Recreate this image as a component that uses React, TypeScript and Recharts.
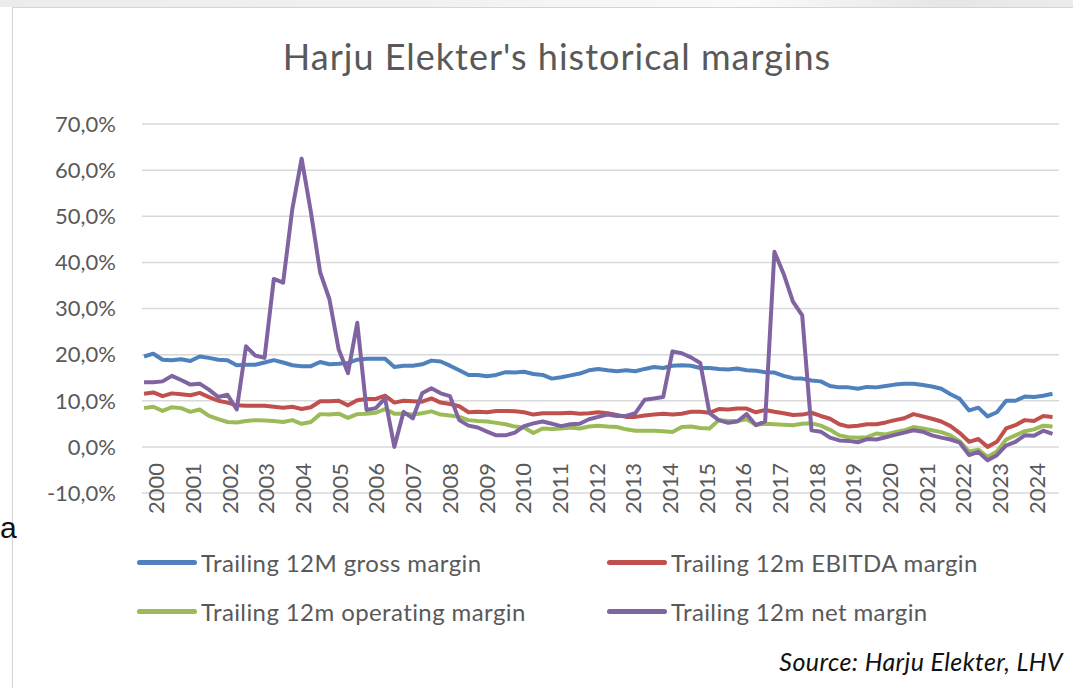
import { LineChart, Line, XAxis, YAxis, CartesianGrid } from "recharts";

const YEARS = [
  2000, 2001, 2002, 2003, 2004, 2005, 2006, 2007, 2008, 2009, 2010, 2011, 2012,
  2013, 2014, 2015, 2016, 2017, 2018, 2019, 2020, 2021, 2022, 2023, 2024,
];

const Y_TICKS = [-10, 0, 10, 20, 30, 40, 50, 60, 70];

// trailing 12m margins, %, one value per quarter
const GROSS = [
  19.6, 20.2, 18.9, 18.8, 19.0, 18.6, 19.6, 19.3, 18.9, 18.8, 17.7, 17.8, 17.8,
  18.3, 18.8, 18.3, 17.7, 17.5, 17.5, 18.4, 17.9, 18.0, 18.2, 18.9, 19.1, 19.1,
  19.1, 17.3, 17.6, 17.6, 17.9, 18.7, 18.5, 17.6, 16.6, 15.6, 15.6, 15.3, 15.6,
  16.2, 16.1, 16.3, 15.8, 15.6, 14.8, 15.1, 15.5, 15.9, 16.6, 16.9, 16.6, 16.4,
  16.6, 16.4, 16.9, 17.3, 17.1, 17.6, 17.7, 17.6, 17.1, 17.1, 16.9, 16.8, 17.0,
  16.6, 16.5, 16.2, 16.1, 15.4, 14.9, 14.8, 14.4, 14.2, 13.2, 12.9, 12.9, 12.6,
  13.0, 12.9, 13.2, 13.5, 13.7, 13.7, 13.4, 13.1, 12.6, 11.4, 10.4, 7.9, 8.5,
  6.6, 7.5, 10.0, 10.0, 10.9, 10.8, 11.1, 11.5,
];

const EBITDA = [
  11.5, 11.8, 11.0, 11.6, 11.4, 11.2, 11.7, 10.8, 10.0, 9.6, 9.0, 8.9, 8.9, 8.9,
  8.7, 8.5, 8.7, 8.2, 8.6, 9.9, 9.9, 10.0, 9.0, 10.1, 10.4, 10.4, 11.1, 9.6,
  10.0, 9.9, 9.8, 10.5, 9.6, 9.3, 8.8, 7.5, 7.6, 7.5, 7.8, 7.8, 7.7, 7.5, 7.0,
  7.3, 7.3, 7.3, 7.4, 7.2, 7.3, 7.5, 7.3, 6.9, 6.5, 6.5, 6.8, 7.0, 7.2, 7.0, 7.2,
  7.6, 7.6, 7.4, 8.2, 8.1, 8.3, 8.3, 7.5, 8.0, 7.6, 7.3, 6.9, 7.0, 7.4, 6.7, 6.1,
  4.9, 4.4, 4.6, 4.9, 4.9, 5.3, 5.8, 6.2, 7.1, 6.6, 6.1, 5.5, 4.5, 3.0, 1.1, 1.7,
  0.0, 1.1, 4.0, 4.7, 5.8, 5.6, 6.7, 6.5,
];

const OPERATING = [
  8.4, 8.7, 7.8, 8.6, 8.4, 7.6, 8.1, 6.7, 6.0, 5.4, 5.3, 5.6, 5.8, 5.7, 5.6, 5.4,
  5.8, 5.0, 5.4, 7.1, 7.0, 7.2, 6.3, 7.1, 7.2, 7.4, 8.2, 7.2, 7.2, 7.0, 7.3, 7.7,
  7.0, 6.8, 6.5, 5.8, 5.6, 5.5, 5.2, 4.9, 4.4, 4.2, 3.0, 4.0, 3.9, 4.0, 4.2, 4.0,
  4.4, 4.6, 4.4, 4.3, 3.8, 3.5, 3.5, 3.5, 3.4, 3.2, 4.3, 4.4, 4.1, 4.0, 5.8, 5.6,
  5.6, 6.0, 4.8, 5.0, 4.9, 4.8, 4.7, 5.0, 5.1, 4.6, 3.7, 2.5, 2.1, 2.0, 2.1, 2.9,
  2.7, 3.2, 3.6, 4.3, 4.0, 3.6, 3.2, 2.5, 1.2, -1.0, -0.6, -2.2, -1.0, 1.6, 2.5,
  3.4, 3.8, 4.6, 4.4,
];

const NET = [
  14.0, 14.0, 14.2, 15.4, 14.5, 13.5, 13.7, 12.4, 10.8, 11.3, 8.1, 21.8, 19.8,
  19.3, 36.4, 35.6, 51.6, 62.5, 50.9, 37.8, 32.0, 21.1, 16.0, 26.9, 8.0, 8.4,
  10.5, 0.0, 7.6, 6.2, 11.6, 12.7, 11.6, 11.0, 5.8, 4.6, 4.2, 3.3, 2.5, 2.5, 3.1,
  4.5, 5.1, 5.5, 5.0, 4.5, 4.9, 5.0, 6.0, 6.5, 7.0, 6.7, 6.7, 7.3, 10.2, 10.5,
  10.8, 20.7, 20.3, 19.4, 18.2, 7.3, 5.8, 5.2, 5.5, 7.1, 4.7, 5.5, 42.3, 37.5,
  31.5, 28.5, 3.6, 3.3, 2.0, 1.4, 1.3, 1.0, 1.7, 1.6, 2.1, 2.6, 3.1, 3.6, 3.3,
  2.5, 2.0, 1.6, 0.9, -1.8, -1.1, -2.9, -1.8, 0.3, 1.1, 2.5, 2.4, 3.5, 2.8,
];

const SERIES = [
  { key: "gross", name: "Trailing 12M gross margin", color: "#4F81BD" },
  { key: "ebitda", name: "Trailing 12m EBITDA margin", color: "#C0504D" },
  { key: "operating", name: "Trailing 12m operating margin", color: "#9BBB59" },
  { key: "net", name: "Trailing 12m net margin", color: "#8064A2" },
];

const data = GROSS.map((g, i) => ({
  i,
  gross: g,
  ebitda: EBITDA[i],
  operating: OPERATING[i],
  net: NET[i],
}));

// year labels sit a little after the first quarter of each year
const FIRST_TICK = 1.35;
const PER_YEAR = 3.956;
const yearTicks = YEARS.map((_, k) => FIRST_TICK + k * PER_YEAR);

const TEXT = "#595959";
const FONT = "Lato, 'Noto Sans', sans-serif";

const pct = (v: number) => `${v.toFixed(1).replace(".", ",")}%`;

const YearTick = ({ x, payload }: any) => {
  const k = Math.round((payload.value - FIRST_TICK) / PER_YEAR);
  const top = 463;
  return (
    <text
      x={x}
      y={top}
      transform={`rotate(-90, ${x}, ${top})`}
      textAnchor="end"
      dy="0.36em"
      fontSize={22}
      fill={TEXT}
      fontFamily={FONT}
    >
      {YEARS[k]}
    </text>
  );
};

const LegendItem = ({ s, left, top }: any) => (
  <div
    style={{
      position: "absolute",
      left,
      top,
      display: "flex",
      alignItems: "center",
      height: 30,
    }}
  >
    <div
      style={{
        width: 60,
        height: 5,
        borderRadius: 3,
        background: s.color,
        marginRight: 4,
      }}
    />
    <span
      style={{ fontSize: 24, letterSpacing: 0.4, color: TEXT, fontFamily: FONT }}
    >
      {s.name}
    </span>
  </div>
);

export default function App() {
  return (
    <div
      style={{
        position: "absolute",
        left: 0,
        top: 0,
        width: 1073,
        height: 688,
        overflow: "hidden",
        background: "#fff",
        fontFamily: FONT,
      }}
    >
      <div
        style={{
          position: "absolute",
          left: 0,
          top: 0,
          width: 1073,
          height: 7,
          background:
            "linear-gradient(90deg, #ececec 0%, #f1f1f1 40%, #fafafa 70%, #e6e6e6 88%, #ececec 100%)",
        }}
      />
      <div
        style={{
          position: "absolute",
          left: 12,
          top: 7,
          width: 1080,
          height: 700,
          border: "1.5px solid #d4d4d4",
          background: "#fff",
        }}
      />
      <div
        style={{
          position: "absolute",
          left: 0,
          top: 511,
          fontSize: 30,
          fontFamily: "'Liberation Sans', Arial, sans-serif",
          color: "#111",
        }}
      >
        a
      </div>

      <div
        style={{
          position: "absolute",
          left: 0,
          width: 1114,
          top: 34,
          textAlign: "center",
          fontSize: 36,
          letterSpacing: 1,
          color: TEXT,
        }}
      >
        Harju Elekter's historical margins
      </div>

      <div style={{ position: "absolute", left: 0, top: 0 }}>
        <LineChart
          width={1073}
          height={688}
          data={data}
          margin={{ top: 124, right: 14, left: 82, bottom: 165 }}
        >
          <CartesianGrid vertical={false} stroke="#d9d9d9" strokeWidth={1.5} />
          <XAxis
            dataKey="i"
            type="number"
            domain={[-0.22, 98.7]}
            allowDataOverflow
            ticks={yearTicks}
            interval={0}
            tick={<YearTick />}
            axisLine={false}
            tickLine={false}
            height={30}
          />
          <YAxis
            domain={[-10, 70]}
            ticks={Y_TICKS}
            interval={0}
            tickFormatter={pct}
            axisLine={false}
            tickLine={false}
            tickMargin={20}
            width={60}
            tick={{ fontSize: 22, fill: TEXT, fontFamily: FONT }}
          />
          {SERIES.map((s) => (
            <Line
              key={s.key}
              type="linear"
              dataKey={s.key}
              stroke={s.color}
              strokeWidth={4}
              strokeLinejoin="round"
              dot={false}
              isAnimationActive={false}
            />
          ))}
        </LineChart>
      </div>

      <LegendItem s={SERIES[0]} left={137} top={547} />
      <LegendItem s={SERIES[1]} left={607} top={547} />
      <LegendItem s={SERIES[2]} left={137} top={596} />
      <LegendItem s={SERIES[3]} left={607} top={596} />

      <div
        style={{
          position: "absolute",
          right: 10,
          top: 646,
          fontSize: 25,
          letterSpacing: 0.4,
          fontStyle: "italic",
          color: "#111",
        }}
      >
        Source: Harju Elekter, LHV
      </div>
    </div>
  );
}
